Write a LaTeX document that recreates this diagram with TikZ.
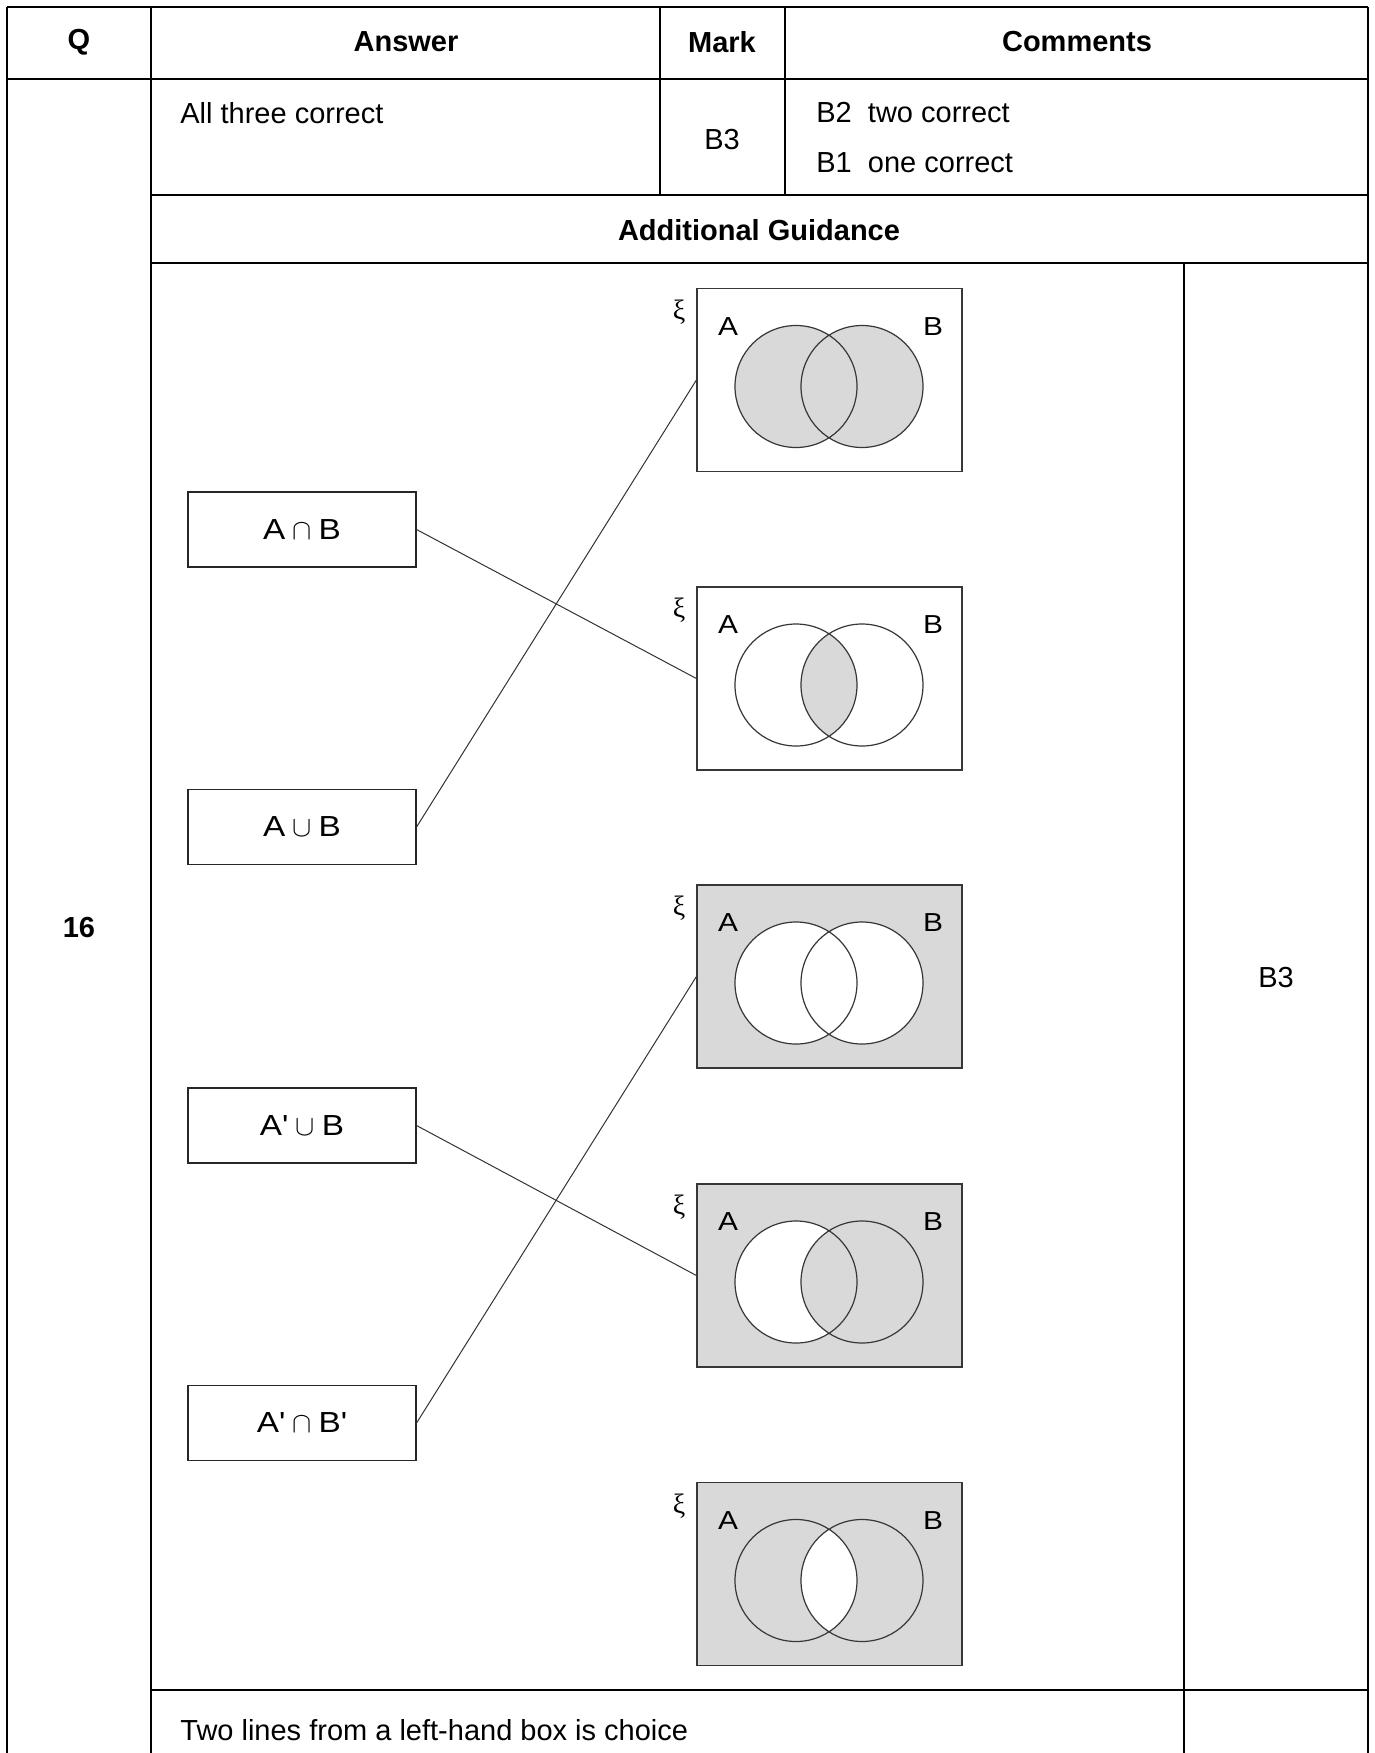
\documentclass[tikz,border=0pt]{standalone}
\usepackage{fontspec}
\setmainfont{Liberation Sans}
\newfontfamily\widesans[FakeStretch=1.15]{Liberation Sans}
\newfontfamily\grkserif{Liberation Serif}
\definecolor{venngray}{RGB}{217,217,217}
\definecolor{vline}{RGB}{55,55,55}
\newcommand\vennframe[3]{%
  \node[vbox, fill=#3] (#1) at (829.5,#2) {};
  \coordinate (#1a) at (796,#2+6.5);
  \coordinate (#1b) at (862,#2+6.5);
}
\newcommand\venncircles[2]{%
  \draw[circ] (#1a) circle[radius=30.5pt] (#1b) circle[radius=30.5pt];
  \node[xil] (#1xi) at (679,#2-68) {ξ};
  \node[vlab] (#1A) at (728,#2-53.5) {A};
  \node[vlab] (#1B) at (933,#2-53.5) {B};
}
\begin{document}
\begin{tikzpicture}[x=0.5pt,y=-0.5pt,
  hl/.style={line width=1.1pt},
  vl/.style={line width=0.8pt},
  tx/.style={font=\fontsize{14.5}{17}\selectfont, inner sep=0pt},
  txb/.style={font=\fontsize{14.5}{17}\selectfont\bfseries, inner sep=0pt},
  lbox/.style={draw=black!85, line width=0.55pt, minimum width=114pt, minimum height=37.5pt, inner sep=0pt, font=\widesans\fontsize{14.5}{16}\selectfont},
  vbox/.style={draw=vline, line width=0.6pt, minimum width=132.5pt, minimum height=91.5pt, inner sep=0pt},
  conn/.style={draw=black!80, line width=0.5pt},
  circ/.style={draw=vline, line width=0.6pt},
  vlab/.style={font=\widesans\fontsize{13}{14}\selectfont, inner sep=0pt},
  xil/.style={font=\grkserif\fontsize{14}{15}\selectfont, inner sep=0pt}]
\useasboundingbox (0,0) rectangle (1375,1753);

% ---- table frame ----
\draw[hl] (7,7) -- (1368,7);
\draw[hl] (7,79) -- (1368,79);
\draw[hl] (151,195) -- (1368,195);
\draw[hl] (151,263) -- (1368,263);
\draw[hl] (151,1690) -- (1368,1690);
\draw[vl] (7,7) -- (7,1753);
\draw[vl] (151,7) -- (151,1753);
\draw[vl] (660,7) -- (660,195);
\draw[vl] (785,7) -- (785,195);
\draw[vl] (1368,7) -- (1368,1753);
\draw[vl] (1184,263) -- (1184,1753);

% ---- table text ----
\node[txb] (hq) at (79,42) {Q};
\node[txb] (ha) at (406,42) {Answer};
\node[txb] (hm) at (722,42) {Mark};
\node[txb] (hc) at (1077,42) {Comments};
\node[tx, anchor=west] (ans) at (180,113) {All three correct};
\node[tx] (mk) at (722,140) {B3};
\node[tx, anchor=west] (c2) at (816,113) {B2\ \ two correct};
\node[tx, anchor=west] (c1) at (816,163) {B1\ \ one correct};
\node[txb] (ag) at (759,230) {Additional Guidance};
\node[txb] (qn) at (79,928) {16};
\node[tx] (mk2) at (1276,978) {B3};
\node[tx, anchor=west] (note) at (180,1730) {Two lines from a left-hand box is choice};

% ---- Venn diagrams ----
% V1: A union B
\vennframe{V1}{380}{white}
\fill[venngray] (V1a) circle[radius=30.5pt] (V1b) circle[radius=30.5pt];
\venncircles{V1}{380}
% V2: A intersect B
\vennframe{V2}{678.5}{white}
\begin{scope}
  \clip (V2a) circle[radius=30.5pt];
  \fill[venngray] (V2b) circle[radius=30.5pt];
\end{scope}
\venncircles{V2}{678.5}
% V3: (A union B)'
\vennframe{V3}{976.5}{venngray}
\fill[white] (V3a) circle[radius=30.5pt] (V3b) circle[radius=30.5pt];
\venncircles{V3}{976.5}
% V4: A' union B
\vennframe{V4}{1275.5}{venngray}
\fill[white] (V4a) circle[radius=30.5pt];
\fill[venngray] (V4b) circle[radius=30.5pt];
\venncircles{V4}{1275.5}
% V5: (A intersect B)'
\vennframe{V5}{1574}{venngray}
\begin{scope}
  \clip (V5a) circle[radius=30.5pt];
  \fill[white] (V5b) circle[radius=30.5pt];
\end{scope}
\venncircles{V5}{1574}

% ---- left boxes ----
\node[lbox] (L1) at (302,529.5) {A\hspace{3.5pt}$\cap$\hspace{3.5pt}B};
\node[lbox] (L2) at (302,827) {A\hspace{3.5pt}$\cup$\hspace{3.5pt}B};
\node[lbox] (L3) at (302,1125.5) {A'\hspace{3.5pt}$\cup$\hspace{3.5pt}B};
\node[lbox] (L4) at (302,1423) {A'\hspace{3.5pt}$\cap$\hspace{3.5pt}B'};

% ---- connectors ----
\draw[conn] (L1.east) -- (V2.west);
\draw[conn] (L2.east) -- (V1.west);
\draw[conn] (L3.east) -- (V4.west);
\draw[conn] (L4.east) -- (V3.west);
\end{tikzpicture}
\end{document}
